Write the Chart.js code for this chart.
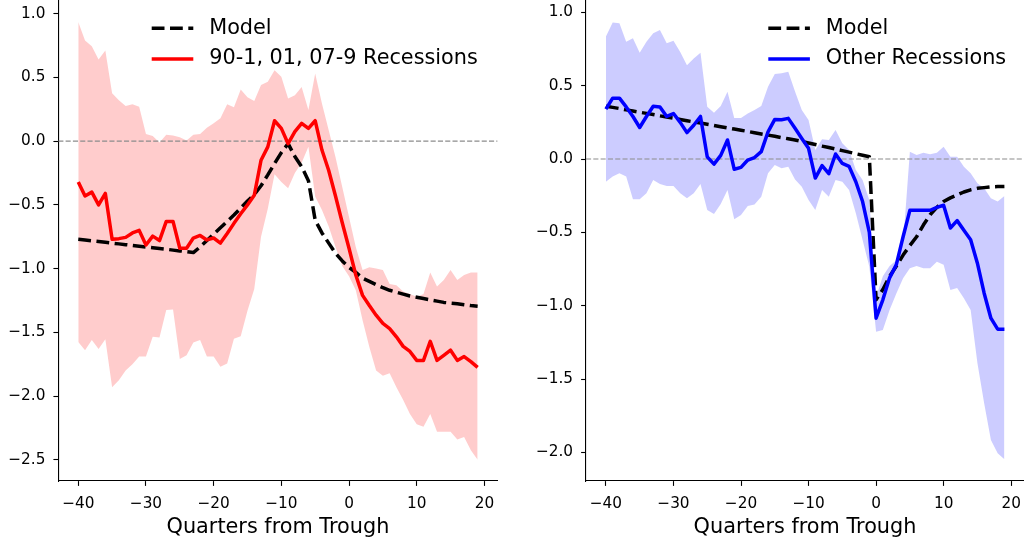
<!DOCTYPE html>
<html>
<head>
<meta charset="utf-8">
<script src="https://cdn.jsdelivr.net/npm/chart.js@4.4.1/dist/chart.umd.min.js"></script>
<style>
  html, body { margin: 0; padding: 0; background: #fff; }
  .panel { position: absolute; top: 0; width: 512px; height: 541px; }
  #leftWrap { left: 0; }
  #rightWrap { left: 512px; }
</style>
</head>
<body>
<div class="panel" id="leftWrap"><canvas id="leftChart"></canvas></div>
<div class="panel" id="rightWrap"><canvas id="rightChart"></canvas></div>
<script>
// quarters from trough, -40 .. 19
const quarters = [-40,-39,-38,-37,-36,-35,-34,-33,-32,-31,-30,-29,-28,-27,-26,-25,-24,-23,-22,-21,
  -20,-19,-18,-17,-16,-15,-14,-13,-12,-11,-10,-9,-8,-7,-6,-5,-4,-3,-2,-1,
  0,1,2,3,4,5,6,7,8,9,10,11,12,13,14,15,16,17,18,19];

// left panel: 90-1, 01, 07-9 recessions
const redMean = [-0.32,-0.43,-0.40,-0.50,-0.41,-0.77,-0.765,-0.755,-0.72,-0.70,-0.815,-0.745,-0.78,-0.63,-0.63,-0.84,-0.84,-0.76,-0.74,-0.775,
  -0.76,-0.80,-0.725,-0.645,-0.57,-0.50,-0.425,-0.15,-0.045,0.16,0.10,-0.02,0.075,0.14,0.10,0.16,-0.07,-0.23,-0.43,-0.64,
  -0.84,-1.05,-1.21,-1.29,-1.365,-1.43,-1.47,-1.535,-1.61,-1.65,-1.72,-1.72,-1.57,-1.72,-1.68,-1.64,-1.72,-1.69,-1.73,-1.775];
const redModel = [-0.77,-0.776,-0.782,-0.788,-0.794,-0.80,-0.806,-0.812,-0.818,-0.824,-0.83,-0.836,-0.842,-0.848,-0.855,-0.861,-0.867,-0.874,-0.83,-0.78,
  -0.73,-0.68,-0.63,-0.58,-0.525,-0.47,-0.42,-0.35,-0.265,-0.175,-0.09,-0.02,-0.12,-0.20,-0.31,-0.62,-0.72,-0.80,-0.88,-0.94,
  -0.99,-1.03,-1.075,-1.10,-1.125,-1.15,-1.17,-1.185,-1.20,-1.215,-1.225,-1.235,-1.245,-1.255,-1.265,-1.27,-1.275,-1.283,-1.29,-1.295];
const redHi = [0.935,0.79,0.745,0.64,0.71,0.375,0.32,0.275,0.29,0.27,0.055,0.04,-0.01,0.05,0.045,0.03,0.005,0.05,0.055,0.105,
  0.14,0.18,0.29,0.265,0.405,0.345,0.315,0.44,0.465,0.555,0.505,0.335,0.36,0.425,0.245,0.53,0.295,0.085,-0.125,-0.36,
  -0.595,-0.83,-1.01,-0.99,-1.0,-1.01,-1.12,-1.13,-1.18,-1.2,-1.22,-1.2,-1.03,-1.14,-1.09,-1.01,-1.09,-1.05,-1.03,-1.03];
const redLo = [-1.575,-1.64,-1.56,-1.63,-1.555,-1.93,-1.875,-1.80,-1.75,-1.69,-1.69,-1.535,-1.54,-1.325,-1.32,-1.71,-1.68,-1.58,-1.56,-1.69,
  -1.69,-1.77,-1.745,-1.55,-1.53,-1.33,-1.16,-0.75,-0.53,-0.26,-0.32,-0.37,-0.25,-0.17,-0.045,-0.435,-0.54,-0.67,-0.83,-0.98,
  -1.06,-1.17,-1.405,-1.615,-1.80,-1.84,-1.82,-1.93,-2.03,-2.14,-2.22,-2.24,-2.14,-2.28,-2.28,-2.28,-2.34,-2.32,-2.425,-2.50];

// right panel: other recessions
const blueMean = [0.34,0.415,0.415,0.355,0.29,0.215,0.29,0.36,0.355,0.29,0.31,0.25,0.18,0.23,0.29,0.015,-0.035,0.025,0.13,-0.07,
  -0.057,-0.007,0.01,0.05,0.185,0.27,0.268,0.277,0.21,0.14,0.073,-0.13,-0.045,-0.10,0.034,-0.03,-0.05,-0.155,-0.29,-0.50,
  -1.085,-0.96,-0.81,-0.72,-0.53,-0.35,-0.35,-0.35,-0.35,-0.33,-0.315,-0.47,-0.42,-0.485,-0.55,-0.71,-0.915,-1.085,-1.16,-1.16];
const blueModel = [0.36,0.352,0.344,0.335,0.327,0.319,0.311,0.303,0.294,0.286,0.278,0.27,0.261,0.253,0.245,0.237,0.229,0.22,0.212,0.204,
  0.196,0.188,0.179,0.171,0.163,0.155,0.146,0.138,0.13,0.12,0.109,0.099,0.088,0.078,0.068,0.057,0.047,0.036,0.026,0.016,
  -0.96,-0.89,-0.80,-0.73,-0.655,-0.59,-0.53,-0.45,-0.38,-0.33,-0.29,-0.265,-0.245,-0.225,-0.21,-0.20,-0.195,-0.19,-0.188,-0.187];
const blueHi = [0.835,0.93,0.925,0.80,0.823,0.725,0.80,0.857,0.88,0.79,0.807,0.73,0.64,0.686,0.725,0.357,0.316,0.361,0.459,0.28,
  0.28,0.31,0.334,0.361,0.493,0.58,0.584,0.595,0.46,0.334,0.266,0.061,0.134,0.13,0.198,0.107,0.061,-0.075,-0.143,-0.28,
  -0.94,-0.80,-0.73,-0.69,-0.575,0.05,0.027,0.043,0.033,0.043,0.084,0.016,0.016,-0.052,-0.097,-0.166,-0.20,-0.268,-0.29,-0.252];
const blueLo = [-0.155,-0.12,-0.097,-0.12,-0.275,-0.275,-0.234,-0.143,-0.17,-0.184,-0.184,-0.234,-0.268,-0.234,-0.17,-0.348,-0.375,-0.307,-0.211,-0.411,
  -0.382,-0.32,-0.31,-0.257,-0.097,-0.041,-0.063,-0.052,-0.14,-0.189,-0.28,-0.348,-0.211,-0.257,-0.143,-0.155,-0.211,-0.37,-0.552,-0.734,
  -1.177,-1.166,-1.03,-0.916,-0.813,-0.745,-0.73,-0.745,-0.745,-0.70,-0.72,-0.893,-0.88,-0.95,-1.03,-1.39,-1.665,-1.915,-2.006,-2.047];

const xTicks = [-40, -30, -20, -10, 0, 10, 20];
const yTicksLeft = [-2.5, -2.0, -1.5, -1.0, -0.5, 0.0, 0.5, 1.0];
const yTicksRight = [-2.0, -1.5, -1.0, -0.5, 0.0, 0.5, 1.0];

Chart.defaults.font.family = '"DejaVu Sans", sans-serif';
Chart.defaults.color = '#000';

const minus = s => s.replace('-', '\u2212');
const pts = arr => quarters.map((q, i) => ({ x: q, y: arr[i] }));

// legend drawn inside the plot area, no frame (like matplotlib frameon=False)
const innerLegend = {
  id: 'innerLegend',
  afterDraw(chart, args, opts) {
    const ctx = chart.ctx;
    ctx.save();
    ctx.font = '20.8px "DejaVu Sans"';
    ctx.textBaseline = 'middle';
    opts.items.forEach((idx, row) => {
      const ds = chart.data.datasets[idx];
      const y = opts.top + row * 30.7;
      ctx.beginPath();
      ctx.setLineDash(ds.borderDash || []);
      ctx.lineWidth = ds.borderWidth;
      ctx.strokeStyle = ds.borderColor;
      ctx.lineCap = 'butt';
      ctx.moveTo(opts.left, y);
      ctx.lineTo(opts.left + 41.6, y);
      ctx.stroke();
      ctx.setLineDash([]);
      ctx.fillStyle = '#000';
      ctx.fillText(ds.label, opts.left + 57.5, y);
    });
    ctx.restore();
  }
};

function makeChart(id, o) {
  return new Chart(document.getElementById(id), {
    type: 'line',
    data: {
      datasets: [
        { label: o.meanLabel, data: pts(o.mean), borderColor: o.color, borderWidth: 3.5,
          pointRadius: 0, fill: false, tension: 0, borderJoinStyle: 'round' },
        { label: 'Model', data: pts(o.model), borderColor: '#000', borderWidth: 3.5, borderDash: [12.8, 5.5],
          pointRadius: 0, fill: false, tension: 0, borderJoinStyle: 'round' },
        { label: 'zero', data: [{ x: o.xmin, y: 0 }, { x: o.xmax, y: 0 }], borderColor: '#8c8c8c',
          borderWidth: 1.2, borderDash: [5.1, 2.2], pointRadius: 0, fill: false },
        { label: 'hi', data: pts(o.hi), borderWidth: 0, borderColor: 'rgba(0,0,0,0)', pointRadius: 0,
          fill: '+1', backgroundColor: o.band, tension: 0 },
        { label: 'lo', data: pts(o.lo), borderWidth: 0, borderColor: 'rgba(0,0,0,0)', pointRadius: 0,
          fill: false, tension: 0 }
      ]
    },
    options: {
      responsive: true,
      maintainAspectRatio: false,
      animation: false,
      layout: { padding: { left: 0, right: o.padRight, top: 0, bottom: 0 } },
      plugins: {
        legend: { display: false },
        tooltip: { enabled: false },
        innerLegend: { items: [1, 0], left: o.legendLeft, top: 28.3 }
      },
      scales: {
        x: {
          type: 'linear',
          min: o.xmin, max: o.xmax,
          afterBuildTicks: s => { s.ticks = xTicks.map(v => ({ value: v })); },
          afterFit: s => { s.height = 60; s.paddingLeft = 0; s.paddingRight = 0; },
          grid: { drawOnChartArea: false, drawTicks: true, tickLength: 4.9, tickWidth: 1.1, tickColor: '#000', color: '#000' },
          border: { display: true, color: '#000', width: 1.1 },
          ticks: { font: { size: 15.3 }, padding: 9, maxRotation: 0, callback: v => minus(String(v)) },
          title: { display: true, text: 'Quarters from Trough', font: { size: 20.8 }, padding: { top: 0, bottom: 1 } }
        },
        y: {
          type: 'linear',
          min: o.ymin, max: o.ymax,
          afterBuildTicks: s => { s.ticks = o.yTicks.map(v => ({ value: v })); },
          afterFit: s => { s.width = o.yWidth; s.paddingTop = 0; s.paddingBottom = 0; },
          grid: { drawOnChartArea: false, drawTicks: true, tickLength: 4.9, tickWidth: 1.1, tickColor: '#000', color: '#000' },
          border: { display: true, color: '#000', width: 1.1 },
          ticks: { font: { size: 15.3 }, padding: 8, callback: v => minus(v.toFixed(1)) }
        }
      }
    },
    plugins: [innerLegend]
  });
}

makeChart('leftChart', {
  mean: redMean, model: redModel, hi: redHi, lo: redLo,
  meanLabel: '90-1, 01, 07-9 Recessions', color: '#ff0000', band: 'rgba(255,0,0,0.2)',
  xmin: -42.95, xmax: 21.95, ymin: -2.666, ymax: 1.107, yTicks: yTicksLeft,
  yWidth: 58.3, padRight: 14.4, legendLeft: 151.7
});

makeChart('rightChart', {
  mean: blueMean, model: blueModel, hi: blueHi, lo: blueLo,
  meanLabel: 'Other Recessions', color: '#0000ff', band: 'rgba(0,0,255,0.2)',
  xmin: -42.95, xmax: 21.9, ymin: -2.195, ymax: 1.084, yTicks: yTicksRight,
  yWidth: 74, padRight: 0, legendLeft: 256.3
});
</script>
</body>
</html>
